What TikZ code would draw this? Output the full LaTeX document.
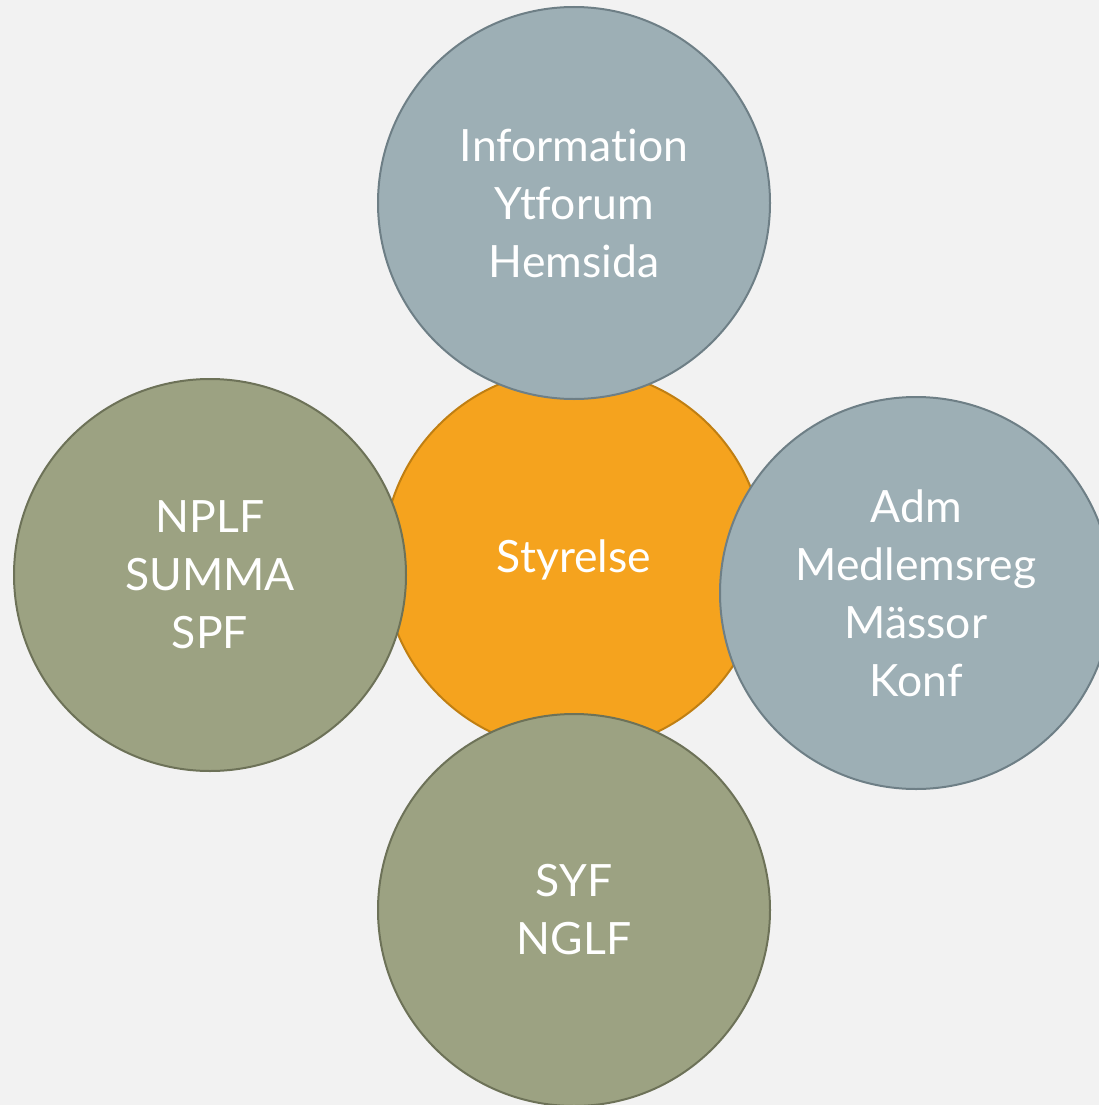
\documentclass[tikz,border=0pt]{standalone}
\usepackage{fontspec}
\setmainfont[Ligatures={NoCommon,NoRare,NoDiscretionary}]{Lato}
\definecolor{bgc}{HTML}{F2F2F2}
\definecolor{orangefill}{HTML}{F5A31E}
\definecolor{orangeline}{HTML}{C07F12}
\definecolor{bluefill}{HTML}{9DAFB5}
\definecolor{blueline}{HTML}{6E7F86}
\definecolor{greenfill}{HTML}{9CA282}
\definecolor{greenline}{HTML}{6D7258}
\begin{document}
\begin{tikzpicture}[x=1pt,y=-1pt,
  bubble/.style={circle,minimum size=392pt,inner sep=0pt,line width=2pt,text=white,align=center,
    font=\fontsize{44.5}{58}\selectfont},
  bluebub/.style={bubble,fill=bluefill,draw=blueline},
  greenbub/.style={bubble,fill=greenfill,draw=greenline},
  orangebub/.style={bubble,minimum size=382pt,fill=orangefill,draw=orangeline}]
\fill[bgc] (0,0) rectangle (1099,1105);
\useasboundingbox (0,0) rectangle (1099,1105);
\node[orangebub] (center) at (574,560) {Styrelse};
\node[bluebub] (top) at (574,203) {Information\\Ytforum\\Hemsida};
\node[greenbub] (left) at (210,575) {NPLF\\SUMMA\\SPF};
\node[bluebub] (right) at (916,593) {Adm\\Medlemsreg\\Mässor\\Konf};
\node[greenbub] (bottom) at (574,910) {SYF\\NGLF};
\end{tikzpicture}
\end{document}
